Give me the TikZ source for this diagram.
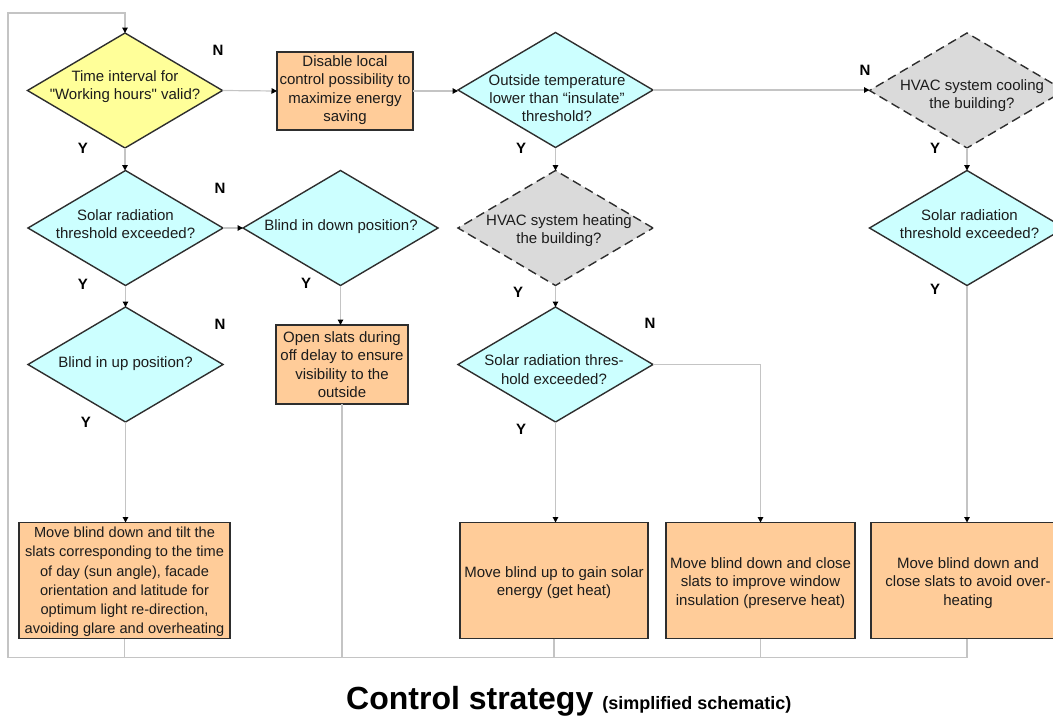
\documentclass[tikz,border=0pt]{standalone}
\usepackage{fontspec}
\setmainfont{Liberation Sans}
\usetikzlibrary{shapes.geometric,arrows.meta}
\definecolor{yel}{HTML}{FFFF99}
\definecolor{cya}{HTML}{CCFFFF}
\definecolor{gry}{HTML}{DADADA}
\definecolor{org}{HTML}{FFCC99}
\definecolor{edge}{HTML}{2E2E2E}
\definecolor{connc}{HTML}{C4C4C4}
\definecolor{txt}{HTML}{1C1C1C}
\begin{document}
\begin{tikzpicture}[x=1pt,y=-1pt,
  dec/.style={diamond, draw=edge, line width=1.4pt, inner sep=0pt, outer sep=0pt,
    minimum width=195pt, minimum height=115pt},
  decdash/.style={dec, fill=gry, dash pattern=on 9pt off 5pt},
  actbox/.style={draw=edge, fill=org, line width=1.4pt, inner sep=0pt, outer sep=0pt},
  ttext/.style={align=center, inner sep=0pt, text=txt, font=\fontsize{15}{18.3}\selectfont},
  lbl/.style={inner sep=0pt, font=\fontsize{15}{15}\selectfont\bfseries},
  conn/.style={draw=connc, line width=1.2pt},
  arr/.style={-{Triangle[length=5.5pt,width=5.5pt,color=black]}}
]
\useasboundingbox (0,0) rectangle (1053,718);

% decisions
\node[dec, fill=yel] (d1) at (125,90.5) {};
\node[ttext] (t1) at (125,86.5) {Time interval for\\\textquotedbl Working hours\textquotedbl\ valid?};
\node[actbox, minimum width=136pt, minimum height=78pt] (bDis) at (345,91) {};
\node[ttext] (tDis) at (345,90) {Disable local\\control possibility to\\maximize energy\\saving};
\node[dec, fill=cya] (d2) at (555.5,90) {};
\node[ttext] (t2) at (557,98) {Outside temperature\\lower than “insulate”\\threshold?};
\node[decdash] (dC) at (967,90.5) {};
\node[ttext] (tC) at (972,95.5) {HVAC system cooling\\the building?};

\node[dec, fill=cya] (d3) at (125.5,228) {};
\node[ttext] (t3) at (125.5,224) {Solar radiation\\threshold exceeded?};
\node[dec, fill=cya] (d4) at (340.5,228) {};
\node[ttext] (t4) at (341,227) {Blind in down position?};
\node[decdash] (dH) at (555.5,228) {};
\node[ttext] (tH) at (559,230.5) {HVAC system heating\\the building?};
\node[dec, fill=cya] (dR) at (967,228) {};
\node[ttext] (tR) at (969.5,224) {Solar radiation\\threshold exceeded?};

\node[dec, fill=cya] (d6) at (125.5,364.5) {};
\node[ttext] (t6) at (125.5,364) {Blind in up position?};
\node[actbox, minimum width=132pt, minimum height=79pt] (bO) at (342,364.5) {};
\node[ttext] (tO) at (342,364.5) {Open slats during\\off delay to ensure\\visibility to the\\outside};
\node[dec, fill=cya] (d5) at (555.5,364.5) {};
\node[ttext] (t5) at (554,369.5) {Solar radiation thres-\\hold exceeded?};

% action boxes
\node[actbox, minimum width=211pt, minimum height=116pt] (bA) at (124.5,580.5) {};
\node[ttext, font=\fontsize{14.6}{19.2}\selectfont] (tA) at (124.5,582) {Move blind down and tilt the\\slats corresponding to the time\\of day (sun angle), facade\\orientation and latitude for\\optimum light re-direction,\\avoiding glare and overheating};
\node[actbox, minimum width=188pt, minimum height=116pt] (bB) at (554,580.5) {};
\node[ttext] (tB) at (554,582.5) {Move blind up to gain solar\\energy (get heat)};
\node[actbox, minimum width=189pt, minimum height=116pt] (bC) at (760.5,580.5) {};
\node[ttext] (tC2) at (760.5,583) {Move blind down and close\\slats to improve window\\insulation (preserve heat)};
\node[actbox, minimum width=192pt, minimum height=116pt] (bD) at (967,580.5) {};
\node[ttext] (tD) at (968,583) {Move blind down and\\close slats to avoid over-\\heating};

% Y / N labels
\node[lbl] (n1) at (218,50) {N};
\node[lbl] (y1) at (83,148) {Y};
\node[lbl] (n2) at (865,70) {N};
\node[lbl] (y2) at (521,148) {Y};
\node[lbl] (yc) at (935,148) {Y};
\node[lbl] (n3) at (220,188) {N};
\node[lbl] (y3) at (83,284) {Y};
\node[lbl] (y4) at (306,283) {Y};
\node[lbl] (yh) at (518,292) {Y};
\node[lbl] (yr) at (935,289) {Y};
\node[lbl] (n6) at (220,324) {N};
\node[lbl] (n5) at (650,323) {N};
\node[lbl] (y6) at (86,422) {Y};
\node[lbl] (y5) at (521,429) {Y};

% connectors
\coordinate (lb) at (8,657.5);
\coordinate (lt) at (8,13);
\draw[conn] (bA.south) -- (bA.south |- lb);
\draw[conn] (bO.south) -- (bO.south |- lb);
\draw[conn] (bB.south) -- (bB.south |- lb);
\draw[conn] (bC.south) -- (bC.south |- lb);
\draw[conn,arr] (bD.south) |- (lb) -- (lt) -| (d1.north);

\draw[conn,arr] (d1.east) -- (bDis.west);
\draw[conn,arr] (bDis.east) -- (bDis.east -| d2.west);
\draw[conn,arr] (d2.east) -- (d2.east -| dC.west);
\draw[conn,arr] (d1.south) -- (d1.south |- d3.north);
\draw[conn,arr] (d3.east) -- (d4.west);
\draw[conn,arr] (d2.south) -- (dH.north);
\draw[conn,arr] (dC.south) -- (dR.north);
\draw[conn,arr] (d3.south) -- (d6.north);
\draw[conn,arr] (d4.south) -- (d4.south |- bO.north);
\draw[conn,arr] (dH.south) -- (d5.north);
\draw[conn,arr] (d6.south) -- (d6.south |- bA.north);
\draw[conn,arr] (d5.south) -- (d5.south |- bB.north);
\draw[conn,arr] (d5.east) -| (bC.north);
\draw[conn,arr] (dR.south) -- (bD.north);

% title
\node[anchor=base west, inner sep=0pt] (title) at (346,709)
  {\fontsize{32}{36}\selectfont\bfseries Control strategy\hspace{9pt}{\fontsize{18}{20}\selectfont (simplified schematic)}};
\end{tikzpicture}
\end{document}
